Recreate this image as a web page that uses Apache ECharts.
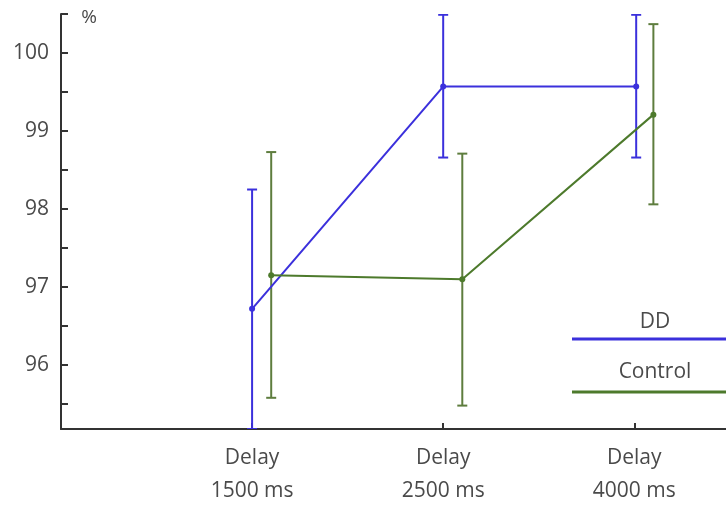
<!DOCTYPE html>
<html>
<head>
<meta charset="utf-8">
<script src="https://cdn.jsdelivr.net/npm/echarts@6/dist/echarts.min.js"></script>
<style>
html,body{margin:0;padding:0;background:#fff;}
#chart{width:726px;height:508px;}
</style>
</head>
<body>
<div id="chart"></div>
<script>
// ---- data ----
const categories = ['Delay\n1500 ms', 'Delay\n2500 ms', 'Delay\n4000 ms'];
const categoryPos = [1, 2, 3];
const ddX = [1, 2, 3.01];
const ddMean = [96.72, 99.57, 99.57];
const ddLow = [95.18, 98.66, 98.66];
const ddHigh = [98.25, 100.49, 100.49];
const ctrlX = [1.1, 2.1, 3.1];
const ctrlMean = [97.15, 97.10, 99.21];
const ctrlLow = [95.58, 95.48, 98.06];
const ctrlHigh = [98.73, 98.71, 100.37];
const yTicks = [95.5, 96, 96.5, 97, 97.5, 98, 98.5, 99, 99.5, 100, 100.5];
const yLabels = [96, 97, 98, 99, 100];
const seriesNames = ['DD', 'Control'];

// ---- styles ----
const FONT = "'Open Sans', 'Noto Sans', sans-serif";
const BLUE = '#3b30dc';
const GREEN = '#4d7a2c';
const GREEN_ERR = '#5e7d3e';
const AXIS = '#333';
const TEXT = '#4a4a4a';

function zip(xs, ys) { return xs.map((x, i) => [x, ys[i]]); }
function errData(xs, lo, hi) { return xs.map((x, i) => [x, lo[i], hi[i]]); }

function errRender(color) {
  return function (params, api) {
    const x = api.value(0);
    const pLo = api.coord([x, api.value(1)]);
    const pHi = api.coord([x, api.value(2)]);
    const w = 5;
    const style = { stroke: color, lineWidth: 2 };
    return {
      type: 'group',
      children: [
        { type: 'line', shape: { x1: pLo[0], y1: pLo[1], x2: pHi[0], y2: pHi[1] }, style: style },
        { type: 'line', shape: { x1: pHi[0] - w, y1: pHi[1], x2: pHi[0] + w, y2: pHi[1] }, style: style },
        { type: 'line', shape: { x1: pLo[0] - w, y1: pLo[1], x2: pLo[0] + w, y2: pLo[1] }, style: style }
      ]
    };
  };
}

const chart = echarts.init(document.getElementById('chart'), null, { renderer: 'canvas' });
chart.setOption({
  animation: false,
  backgroundColor: '#fff',
  textStyle: { fontFamily: FONT },
  grid: { left: 61, right: 0, top: 14, bottom: 78, containLabel: false },
  xAxis: {
    type: 'value',
    min: 0,
    max: 3.48,
    splitLine: { show: false },
    axisLine: { show: true, lineStyle: { color: AXIS, width: 2 } },
    axisTick: { show: true, inside: true, length: 6, customValues: categoryPos, lineStyle: { color: AXIS, width: 2 } },
    axisLabel: {
      fontFamily: FONT, fontSize: 21, color: TEXT, lineHeight: 33, margin: 13,
      customValues: categoryPos,
      formatter: function (v) {
        const i = categoryPos.indexOf(Math.round(v * 100) / 100);
        return i >= 0 ? categories[i] : '';
      }
    }
  },
  yAxis: {
    type: 'value',
    min: 95.18,
    max: 100.5,
    splitLine: { show: false },
    axisLine: { show: true, lineStyle: { color: AXIS, width: 2 } },
    axisTick: { show: true, inside: true, length: 7, customValues: yTicks, lineStyle: { color: AXIS, width: 2 } },
    axisLabel: {
      fontFamily: FONT, fontSize: 21, color: TEXT, margin: 12,
      customValues: yLabels,
      formatter: function (v) { return String(Math.round(v)); }
    }
  },
  series: [
    {
      name: seriesNames[0], type: 'line', data: zip(ddX, ddMean),
      symbol: 'circle', symbolSize: 6, z: 5,
      lineStyle: { color: BLUE, width: 2 }, itemStyle: { color: BLUE }
    },
    {
      name: seriesNames[1], type: 'line', data: zip(ctrlX, ctrlMean),
      symbol: 'circle', symbolSize: 6, z: 5,
      lineStyle: { color: GREEN, width: 2 }, itemStyle: { color: GREEN }
    },
    {
      type: 'custom', name: seriesNames[0] + ' err', clip: true, z: 4,
      data: errData(ddX, ddLow, ddHigh), renderItem: errRender(BLUE),
      encode: { x: 0, y: [1, 2] }
    },
    {
      type: 'custom', name: seriesNames[1] + ' err', clip: true, z: 4,
      data: errData(ctrlX, ctrlLow, ctrlHigh), renderItem: errRender(GREEN_ERR),
      encode: { x: 0, y: [1, 2] }
    }
  ],
  graphic: [
    { type: 'text', x: 89, y: 18, style: { text: '%', font: '19px ' + FONT, fill: TEXT, align: 'center', verticalAlign: 'middle' } },
    { type: 'text', x: 655, y: 322, style: { text: seriesNames[0], font: '21px ' + FONT, fill: TEXT, align: 'center', verticalAlign: 'middle' } },
    { type: 'line', shape: { x1: 572, y1: 339, x2: 726, y2: 339 }, style: { stroke: BLUE, lineWidth: 3 } },
    { type: 'text', x: 655, y: 372, style: { text: seriesNames[1], font: '21px ' + FONT, fill: TEXT, align: 'center', verticalAlign: 'middle' } },
    { type: 'line', shape: { x1: 572, y1: 392, x2: 726, y2: 392 }, style: { stroke: GREEN, lineWidth: 3 } }
  ]
});
</script>
</body>
</html>
